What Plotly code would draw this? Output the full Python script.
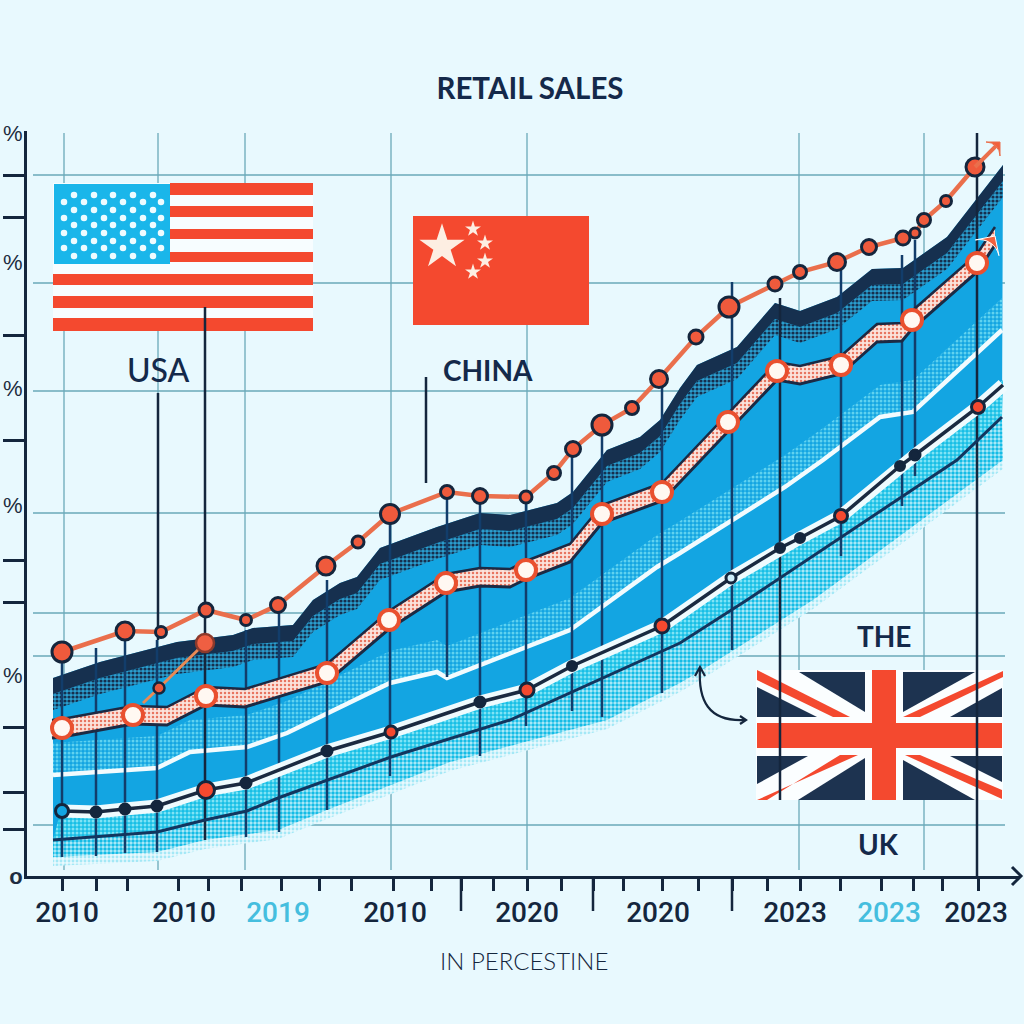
import numpy as np
import plotly.graph_objects as go

# Series --- (x = position along the time axis, y = height above the baseline)
top_x = [62, 125, 161, 206, 246, 278, 326, 358, 390, 447, 480, 526, 554, 573, 602, 632, 659, 696, 729, 775, 800, 837, 869, 903, 915, 924, 946, 975]
top_y = [224, 245, 244, 266, 256, 271, 310, 334, 362, 384, 380, 379, 403, 427, 451, 468, 497, 539, 569, 592, 604, 614, 629, 638, 643, 656, 675, 709]
top_end_x = [975, 1000]
top_end_y = [709, 734]

band_x = [53, 100, 177, 233, 253, 293, 313, 340, 357, 380, 437, 480, 510, 557, 573, 607, 640, 660, 680, 697, 737, 775, 800, 837, 872, 903, 947, 1003]
band_y = [198, 214, 234, 241, 248, 251, 276, 293, 299, 328, 349, 363, 361, 373, 384, 426, 439, 456, 488, 511, 529, 573, 565, 579, 607, 608, 639, 711]

ribbon_x = [52, 62, 133, 167, 206, 245, 327, 389, 446, 480, 510, 526, 570, 602, 662, 728, 777, 800, 841, 877, 902, 912, 977, 995]
ribbon_y = [147, 148, 161, 160, 180, 178, 203, 256, 293, 299, 298, 306, 323, 362, 384, 454, 505, 501, 511, 543, 544, 556, 613, 640]
ribbon_dot_x = [62, 133, 206, 327, 389, 446, 526, 602, 662, 728, 777, 841, 912, 977]
ribbon_dot_y = [148, 161, 180, 203, 256, 293, 306, 362, 384, 454, 505, 511, 556, 613]

side_x = [143, 159, 205]
side_y = [173, 188, 233]

white_x = [53, 157, 190, 247, 287, 340, 390, 437, 447, 570, 657, 680, 785, 823, 880, 913, 977, 1002]
white_y = [101, 108, 124, 129, 143, 169, 193, 204, 198, 246, 309, 323, 389, 416, 459, 464, 523, 546]

black_x = [62, 96, 125, 157, 206, 246, 327, 391, 480, 527, 572, 662, 731, 780, 800, 841, 900, 915, 978, 1003]
black_y = [65, 64, 67, 70, 86, 93, 125, 144, 174, 186, 210, 250, 298, 328, 338, 360, 410, 421, 469, 491]

low_x = [53, 157, 205, 247, 278, 327, 391, 510, 680, 747, 850, 957, 1002]
low_y = [36, 44, 56, 65, 78, 96, 119, 156, 233, 276, 345, 416, 459]

edge_x = [53, 157, 205, 278, 327, 450, 607, 680, 707, 813, 1003]
edge_y = [19, 24, 36, 46, 66, 114, 156, 193, 209, 276, 416]

# drop lines: x, upper end, lower end
stem_x = [62, 96, 125, 157, 246, 279, 327, 390, 447, 480, 526, 572, 602, 662, 732, 841, 902, 915]
stem_top = [224, 228, 236, 236, 246, 266, 296, 362, 384, 380, 379, 427, 451, 497, 594, 606, 621, 636]
stem_bottom = [19, 20, 23, 24, 39, 44, 66, 100, 199, 120, 150, 165, 159, 183, 226, 320, 370, 400]
black_stem_x = [158, 205, 426, 780, 977]
black_stem_top = [483, 569, 499, 578, 743]
black_stem_bottom = [236, 36, 393, 76, 0]

# Axes ---
x_tick_vals = [67, 184, 278, 395, 527, 658, 795, 889, 976]
x_tick_text = ["2010", "2010", '<span style="color:#45bede">2019</span>', "2010", "2020", "2020", "2023",
               '<span style="color:#45bede">2023</span>', "2023"]
x_minor = [62, 96, 127, 178, 208, 241, 281, 319, 351, 393, 431, 461, 493, 527, 561, 593, 623, 662, 698, 732, 767, 800, 840, 881, 913, 942, 978]
x_long = [461, 593, 732]
y_tick_vals = [0, 201, 371, 488, 614, 743]
y_tick_text = ["<b>o</b>", "%", "%", "%", "%", "%"]
y_minor = [47, 84, 149, 274, 316, 436, 541, 659, 701]
grid_x = [64, 158, 245, 391, 527, 799, 924]
grid_y = [51, 220, 263, 363, 485, 593, 701]

NAVY = "#16304f"
INK = "#14263d"
BLUE = "#13a5e2"
CYAN = "#17bfe6"
RED = "#f4492f"
ORANGE = "#ea6f4c"
BG = "#e8f9fe"

fig = go.Figure()


def band(xa, ya, xb, yb, **kw):
    fig.add_scatter(x=list(xa) + list(xb)[::-1], y=list(ya) + list(yb)[::-1], mode="lines", fill="toself",
                    line_width=0, hoverinfo="skip", **kw)


def line(x, y, color, width, **kw):
    fig.add_scatter(x=x, y=y, mode="lines", line=dict(color=color, width=width), hoverinfo="skip", **kw)


def dots(fg, bg, size=4, solidity=0.45):
    return dict(shape=".", fgcolor=fg, bgcolor=bg, size=size, solidity=solidity, fillmode="replace")


band_arr = np.array(band_y)
white_arr = np.array(white_y)
ribbon_arr = np.array(ribbon_y)
edge_arr = np.array(edge_y)

# areas
band(edge_x, edge_arr + 6, edge_x, edge_arr - 9, fillpattern=dots("#a4e8f6", BG, 4, 0.4))
band(band_x, band_y, low_x, low_y, fillcolor=BLUE)
band(white_x, white_arr + 32, white_x, white_arr, fillpattern=dots("#5fd2f0", BLUE))
band(black_x, np.array(black_y) + 5, low_x, low_y, fillpattern=dots("#7fe3f5", CYAN))
band(low_x, low_y, edge_x, edge_y, fillpattern=dots("#14bce6", "#b8eef9", 4, 0.6))
line(white_x, white_y, "#f2fbfe", 4.5)

# navy band
band(band_x, band_arr - 16, band_x, band_arr - 32, fillpattern=dots("#16304f", "#2a9fd0", 4, 0.5))
band(band_x, band_y, band_x, band_arr - 16, fillcolor=NAVY)

# drop lines
sx, sy = [], []
for x, t, b in zip(stem_x, stem_top, stem_bottom):
    sx += [x, x, None]
    sy += [t, b, None]
line(sx, sy, "#123d6b", 2.5)
sx, sy = [], []
for x, t, b in zip(black_stem_x, black_stem_top, black_stem_bottom):
    sx += [x, x, None]
    sy += [t, b, None]
line(sx, sy, INK, 2.5)

# lower lines
line(low_x, low_y, "#12365f", 3)
line(black_x, black_y, "#effbfe", 13)
line(black_x, black_y, "#1a2a40", 3.5)
black_colors = [BLUE, INK, INK, INK, RED, INK, INK, RED, INK, RED, INK, RED, "#cfeffa", INK, INK, RED, INK, INK, RED, INK]
black_sizes = [13, 10, 10, 10, 17, 10, 10, 12, 10, 14, 9, 14, 10, 9, 9, 13, 9, 10, 13, 0]
fig.add_scatter(x=black_x, y=black_y, mode="markers", hoverinfo="skip",
                marker=dict(color=black_colors, size=black_sizes, opacity=1, line=dict(color=INK, width=3)))

# pink ribbon
band(ribbon_x, ribbon_arr + 9, ribbon_x, ribbon_arr - 9, fillpattern=dots("#e8755f", "#fbe3dc", 4, 0.3))
line(ribbon_x, ribbon_arr + 9, "#1c2a44", 2.5)
line(ribbon_x, ribbon_arr - 9, "#1c2a44", 3)
fig.add_scatter(x=ribbon_dot_x, y=ribbon_dot_y, mode="markers", hoverinfo="skip",
                marker=dict(color="#fff8f2", size=20, opacity=1, line=dict(color="#e9502f", width=4)))
fig.add_scatter(x=ribbon_x[-2:], y=ribbon_y[-2:], mode="markers", hoverinfo="skip",
                marker=dict(symbol="arrow-wide", angleref="previous", color="#f2603c", size=[0, 20], opacity=1))

# thin orange branch
line(side_x, side_y, "#e98a55", 3)
fig.add_scatter(x=side_x[1:], y=side_y[1:], mode="markers", hoverinfo="skip",
                marker=dict(color=["#e9573a", "#ef5f42"], size=[11, 18], opacity=1, line=dict(color=[INK, "#8c3a2c"], width=2.5)))

# top line
line(top_x, top_y, ORANGE, 4.5)
top_sizes = [20, 18, 11, 14, 11, 15, 18, 12, 19, 13, 15, 12, 13, 15, 20, 13, 17, 14, 20, 14, 13, 17, 15, 14, 10, 13, 11, 18]
fig.add_scatter(x=top_x, y=top_y, mode="markers", hoverinfo="skip",
                marker=dict(color="#ef5a3c", size=top_sizes, opacity=1, line=dict(color=INK, width=3)))
fig.add_scatter(x=top_end_x, y=top_end_y, mode="lines+markers", hoverinfo="skip", line=dict(color=ORANGE, width=4),
                marker=dict(symbol="arrow-wide", angleref="previous", color="#f2603c", size=[0, 14], opacity=1))


# Flags and other drawing ---
def yv(p):
    return 876 - p


shapes = []


def poly(points, color, layer="below"):
    path = "M " + " L ".join(f"{x} {yv(p)}" for x, p in points) + " Z"
    shapes.append(dict(type="path", path=path, fillcolor=color, line_width=0, layer=layer, xref="x", yref="y"))


def rect(x0, p0, x1, p1, color):
    poly([(x0, p0), (x1, p0), (x1, p1), (x0, p1)], color)


for g in grid_x:
    shapes.append(dict(type="line", x0=g, x1=g, y0=yv(133), y1=yv(870), line=dict(color="#6aa9b8", width=1.3), layer="below"))
for g in grid_y:
    shapes.append(dict(type="line", x0=33, x1=1005, y0=g, y1=g, line=dict(color="#6aa9b8", width=1.3), layer="below"))

# USA
rect(53, 183, 313, 331, "#f7fdff")
rect(54, 184, 170, 264, "#1ab6ea")
for p0, p1 in [(183, 195), (206, 217), (229, 239), (252, 262)]:
    rect(170, p0, 313, p1, RED)
for p0, p1 in [(274, 285), (296, 308), (318, 331)]:
    rect(53, p0, 313, p1, RED)

# China
rect(413, 216, 589, 325, RED)

# UK
rect(756, 670, 1003, 800, "#fbfeff")
for tri in [
    [(799, 672), (865, 672), (865, 712)], [(757, 687), (757, 717), (817, 717)],
    [(903, 672), (975, 672), (903, 712)], [(1002, 688), (1002, 717), (950, 717)],
    [(757, 756), (808, 756), (757, 784)], [(865, 758), (865, 800), (798, 800)],
    [(903, 760), (903, 800), (975, 800)], [(950, 756), (1002, 756), (1002, 782)],
]:
    poly(tri, "#1d3350")
for tri in [
    [(757, 670), (850, 717), (833, 717), (757, 680)], [(1003, 671), (903, 717), (920, 717), (1003, 677)],
    [(858, 755), (757, 800), (767, 800), (840, 755)], [(920, 755), (1002, 790), (1002, 799), (905, 755)],
]:
    poly(tri, RED)
rect(872, 670, 896, 800, RED)
rect(757, 723, 1002, 748, RED)

# curved pointer next to the UK flag
shapes.append(dict(type="path", path=f"M 700 {yv(668)} C 698 {yv(700)} 708 {yv(722)} 745 {yv(720)}",
                   line=dict(color=INK, width=2.2), layer="above"))
shapes.append(dict(type="path", path=f"M 695 {yv(676)} L 700 {yv(667)} L 705 {yv(676)}", line=dict(color=INK, width=2.2), layer="above"))
shapes.append(dict(type="path", path=f"M 740 {yv(716)} L 746 {yv(720)} L 740 {yv(724)}", line=dict(color=INK, width=2.2), layer="above"))

# long x ticks and the axis arrow head
for t in x_long:
    shapes.append(dict(type="line", xref="x", yref="paper", x0=t, x1=t, y0=(1024 - 876) / 1024, y1=(1024 - 911) / 1024,
                       line=dict(color=INK, width=2.5)))
shapes.append(dict(type="path", xref="paper", yref="paper",
                   path=f"M {1012 / 1024} {(1024 - 867) / 1024} L {1021 / 1024} {(1024 - 876) / 1024} L {1012 / 1024} {(1024 - 885) / 1024}",
                   line=dict(color=INK, width=3)))

# stars
star_rows = [195, 202, 210, 218, 225, 233, 241, 248, 256]
star_odd = [74, 94, 113, 133, 153]
star_even = [64, 84, 104, 123, 143, 161]
star_x, star_y = [], []
for i, p in enumerate(star_rows):
    for x in (star_odd if i % 2 == 0 else star_even):
        star_x.append(x)
        star_y.append(yv(p))
fig.add_scatter(x=star_x, y=star_y, mode="markers", hoverinfo="skip", marker=dict(color="#eefbff", size=6.5, opacity=1))
fig.add_scatter(x=[442, 473, 485, 485, 473], y=[yv(247), yv(229), yv(243), yv(261), yv(272)], mode="markers", hoverinfo="skip",
                marker=dict(symbol="star", color="#fdeee2", size=[34, 12, 12, 12, 12], opacity=1, line_width=0))


def label(text, x, p, size, weight=700, color="#14294a"):
    return dict(text=text, x=x, y=yv(p), xref="x", yref="y", showarrow=False, xanchor="center", yanchor="middle",
                font=dict(family="Lato", size=size, color=color, weight=weight))


annotations = [
    label("USA", 158, 369, 32, 500),
    label("CHINA", 488, 370, 28),
    label("THE", 884, 636, 28),
    label("UK", 878, 844, 28),
    dict(text="IN PERCESTINE", x=524 / 1024, y=(1024 - 960) / 1024, xref="paper", yref="paper", showarrow=False,
         xanchor="center", yanchor="middle", font=dict(family="Lato", size=24, color="#14263d", weight=300)),
]

fig.update_layout(
    width=1024, height=1024, margin=dict(l=0, r=0, t=0, b=0),
    paper_bgcolor=BG, plot_bgcolor=BG, showlegend=False, hovermode=False,
    title=dict(text="RETAIL SALES", x=530 / 1024, y=(1024 - 89) / 1024, xanchor="center", yanchor="middle",
               font=dict(family="Lato", size=29.5, color="#14294a", weight=700)),
    shapes=shapes, annotations=annotations,
    xaxis=dict(domain=[27 / 1024, 1020 / 1024], range=[27, 1020], automargin=False, showgrid=False, zeroline=False, showline=True,
               linecolor=INK, linewidth=3, tickmode="array", tickvals=x_tick_vals, ticktext=x_tick_text, ticks="",
               ticklabelstandoff=9, tickfont=dict(family="Roboto", size=28, color="#14263d", weight=500),
               minor=dict(tickmode="array", tickvals=x_minor, ticks="outside", ticklen=12, tickwidth=2.5,
                          tickcolor=INK, showgrid=False)),
    yaxis=dict(domain=[(1024 - 876) / 1024, (1024 - 131) / 1024], range=[0, 745], automargin=False, showgrid=False, zeroline=False, showline=True,
               linecolor=INK, linewidth=3, tickmode="array", tickvals=y_tick_vals, ticktext=y_tick_text, ticks="",
               ticklabelstandoff=-3, tickfont=dict(family="Liberation Sans", size=22, color="#1d2c40"),
               minor=dict(tickmode="array", tickvals=y_minor, ticks="outside", ticklen=21, tickwidth=3,
                          tickcolor=INK, showgrid=False)),
)

fig.write_html("out.html", config={"displayModeBar": False}, post_script="document.body.style.margin='0';")
